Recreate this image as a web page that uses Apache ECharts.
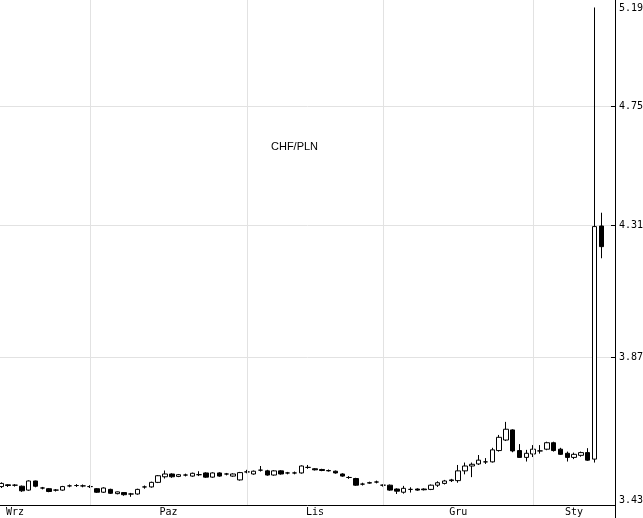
<!DOCTYPE html>
<html><head><meta charset="utf-8">
<script src="https://cdn.jsdelivr.net/npm/echarts@6/dist/echarts.min.js"></script>
<style>html,body{margin:0;padding:0;background:#fff}#c{width:643px;height:518px}</style>
</head><body><div id="c"></div>
<script>
// Trading days (forex; no Dec 25, Jan 1)
const dates = [
 '2014-09-12','2014-09-15','2014-09-16','2014-09-17','2014-09-18','2014-09-19','2014-09-22','2014-09-23','2014-09-24','2014-09-25','2014-09-26','2014-09-29','2014-09-30',
 '2014-10-01','2014-10-02','2014-10-03','2014-10-06','2014-10-07','2014-10-08','2014-10-09','2014-10-10','2014-10-13','2014-10-14','2014-10-15','2014-10-16','2014-10-17','2014-10-20','2014-10-21','2014-10-22','2014-10-23','2014-10-24','2014-10-27','2014-10-28','2014-10-29','2014-10-30','2014-10-31',
 '2014-11-03','2014-11-04','2014-11-05','2014-11-06','2014-11-07','2014-11-10','2014-11-11','2014-11-12','2014-11-13','2014-11-14','2014-11-17','2014-11-18','2014-11-19','2014-11-20','2014-11-21','2014-11-24','2014-11-25','2014-11-26','2014-11-27','2014-11-28',
 '2014-12-01','2014-12-02','2014-12-03','2014-12-04','2014-12-05','2014-12-08','2014-12-09','2014-12-10','2014-12-11','2014-12-12','2014-12-15','2014-12-16','2014-12-17','2014-12-18','2014-12-19','2014-12-22','2014-12-23','2014-12-24','2014-12-26','2014-12-29','2014-12-30','2014-12-31',
 '2015-01-02','2015-01-05','2015-01-06','2015-01-07','2015-01-08','2015-01-09','2015-01-12','2015-01-13','2015-01-14','2015-01-15','2015-01-16'
];
const openV = [
 3.482,3.487,3.486,3.483,3.472,3.498,3.478,3.476,3.472,3.472,3.484,3.485,3.484,
 3.482,3.476,3.466,3.474,3.462,3.465,3.461,3.461,3.481,3.481,3.494,3.510,3.518,3.511,3.515,3.512,3.516,3.521,3.509,3.521,3.518,3.512,3.501,
 3.524,3.518,3.529,3.527,3.515,3.527,3.521,3.521,3.521,3.537,3.533,3.531,3.528,3.526,3.518,3.508,3.505,3.489,3.493,3.495,
 3.486,3.486,3.475,3.466,3.474,3.475,3.475,3.474,3.486,3.491,3.501,3.499,3.527,3.541,3.547,3.553,3.553,3.586,3.617,3.647,3.586,3.566,
 3.576,3.585,3.590,3.609,3.590,3.578,3.566,3.572,3.580,3.561,4.308
];
const closeV = [
 3.491,3.485,3.486,3.470,3.498,3.483,3.478,3.468,3.472,3.482,3.484,3.485,3.484,
 3.482,3.466,3.478,3.463,3.467,3.459,3.461,3.474,3.481,3.494,3.513,3.518,3.510,3.516,3.515,3.520,3.516,3.509,3.521,3.512,3.518,3.518,3.522,
 3.524,3.526,3.529,3.515,3.527,3.518,3.521,3.521,3.541,3.537,3.530,3.528,3.527,3.521,3.512,3.508,3.486,3.489,3.492,3.495,
 3.486,3.472,3.469,3.477,3.474,3.472,3.473,3.486,3.493,3.498,3.499,3.527,3.541,3.546,3.558,3.553,3.588,3.625,3.649,3.585,3.566,3.578,
 3.590,3.585,3.609,3.586,3.575,3.566,3.575,3.580,3.558,4.306,4.236
];
const lowV = [
 3.478,3.481,3.482,3.467,3.470,3.480,3.474,3.466,3.468,3.470,3.480,3.481,3.480,
 3.478,3.464,3.464,3.461,3.460,3.456,3.453,3.459,3.476,3.479,3.492,3.505,3.507,3.509,3.511,3.510,3.512,3.507,3.507,3.510,3.514,3.510,3.499,
 3.520,3.516,3.525,3.513,3.513,3.516,3.517,3.517,3.519,3.533,3.528,3.526,3.525,3.519,3.510,3.504,3.484,3.485,3.490,3.491,
 3.482,3.470,3.461,3.462,3.465,3.470,3.471,3.472,3.481,3.488,3.495,3.493,3.517,3.509,3.544,3.547,3.551,3.583,3.614,3.581,3.565,3.554,
 3.567,3.577,3.587,3.583,3.573,3.554,3.561,3.568,3.556,3.551,4.196
];
const highV = [
 3.494,3.489,3.489,3.485,3.500,3.499,3.481,3.478,3.475,3.484,3.488,3.489,3.488,
 3.486,3.478,3.480,3.476,3.468,3.466,3.464,3.476,3.485,3.496,3.515,3.528,3.520,3.518,3.519,3.522,3.526,3.523,3.523,3.523,3.521,3.520,3.524,
 3.530,3.528,3.541,3.530,3.529,3.529,3.524,3.525,3.543,3.544,3.535,3.533,3.531,3.528,3.520,3.512,3.507,3.493,3.496,3.499,
 3.488,3.488,3.477,3.484,3.480,3.477,3.477,3.488,3.497,3.501,3.504,3.544,3.551,3.551,3.573,3.564,3.594,3.632,3.671,3.649,3.605,3.588,
 3.602,3.602,3.612,3.612,3.594,3.583,3.580,3.583,3.593,5.150,4.355
];
const yTicks = [3.43, 3.87, 4.31, 4.75, 5.19];
const monthNames = ['Wrz','Paz','Lis','Gru','Sty'];
const title = 'CHF/PLN';

// helpers
const L = Math.log;
function weekdaysBetween(a, b) { // count weekdays in [a, b)
  let n = 0, d = new Date(a + 'T00:00:00Z'); const e = new Date(b + 'T00:00:00Z');
  while (d < e) { const w = d.getUTCDay(); if (w !== 0 && w !== 6) n++; d.setUTCDate(d.getUTCDate() + 1); }
  return n;
}
const xMin = -0.2, xMax = 90;
const monthStart = [];
let cur = null;
dates.forEach((d, i) => { const m = d.slice(0, 7); if (m !== cur) { cur = m; monthStart.push(i); } });
monthStart[0] = -weekdaysBetween(dates[0].slice(0, 8) + '01', dates[0]);
const monthCenters = monthStart.map((s, k) => (s + Math.min(k + 1 < monthStart.length ? monthStart[k + 1] : xMax, xMax)) / 2);
const splitVals = monthStart.slice(1);
const yMaxLog = L(yTicks[yTicks.length - 1]);

const candles = dates.map((d, i) => [i, L(openV[i]), L(closeV[i]), L(lowV[i]), L(highV[i])]);

const font = 'DejaVu Sans Mono';
const gridColor = '#e2e2e2';
const chart = echarts.init(document.getElementById('c'));
chart.setOption({
  animation: false,
  backgroundColor: '#fff',
  title: { text: title, left: 266, top: 136, textStyle: { fontFamily: 'Liberation Sans', fontSize: 11, fontWeight: 'normal', color: '#000' } },
  grid: [
    { left: 0, right: 28, top: -2, bottom: 13, containLabel: false, outerBoundsMode: 'none' },
    { left: 0, right: 28, top: 0, bottom: 0, containLabel: false, outerBoundsMode: 'none' }
  ],
  xAxis: [
    { type: 'value', min: xMin, max: xMax, gridIndex: 0,
      axisLine: { show: true, onZero: false, lineStyle: { color: '#000', width: 1 } },
      axisTick: { show: true, inside: true, length: 4, lineStyle: { color: '#000' }, customValues: splitVals },
      splitLine: { show: false },
      axisLabel: { show: true, margin: 2, fontFamily: font, fontSize: 10, color: '#000',
        customValues: monthCenters,
        formatter: v => { const k = monthCenters.findIndex(c => Math.abs(c - v) < 1e-6); return k >= 0 ? monthNames[k] : ''; } }
    },
    { type: 'value', gridIndex: 1, show: false, min: 0, max: 1 }
  ],
  yAxis: [
    { type: 'value', position: 'right', min: L(yTicks[0]), max: yMaxLog, gridIndex: 0,
      axisLine: { show: true, onZero: false, lineStyle: { color: '#000', width: 1 } },
      axisTick: { show: true, inside: true, length: 4, lineStyle: { color: '#000' }, customValues: yTicks.map(L) },
      splitLine: { show: true, lineStyle: { color: gridColor, width: 1 } },
      axisLabel: { show: true, margin: 4, fontFamily: font, fontSize: 10, color: '#000',
        customValues: yTicks.map(L),
        verticalAlignMinLabel: 'bottom', verticalAlignMaxLabel: 'top',
        rich: { top: { fontFamily: font, fontSize: 10, color: '#000', padding: [5, 0, 0, 0] } },
        formatter: v => Math.abs(v - yMaxLog) < 1e-9 ? '{top|' + Math.exp(v).toFixed(2) + '}' : Math.exp(v).toFixed(2) }
    },
    { type: 'value', gridIndex: 1, position: 'right', min: 0, max: 1,
      axisLine: { show: true, onZero: false, lineStyle: { color: '#000', width: 1 } },
      axisTick: { show: false }, axisLabel: { show: false }, splitLine: { show: false } }
  ],
  series: [{
    type: 'candlestick',
    xAxisIndex: 0, yAxisIndex: 0,
    barWidth: 5,
    encode: { x: 0, y: [1, 2, 3, 4] },
    data: candles,
    itemStyle: { color: '#fff', color0: '#000', borderColor: '#000', borderColor0: '#000', borderWidth: 1 },
    markLine: {
      silent: true, symbol: ['none', 'none'], label: { show: false },
      lineStyle: { color: gridColor, type: 'solid', width: 1 },
      data: splitVals.map(v => ({ xAxis: v }))
    },
    z: 3
  }]
});
</script></body></html>
